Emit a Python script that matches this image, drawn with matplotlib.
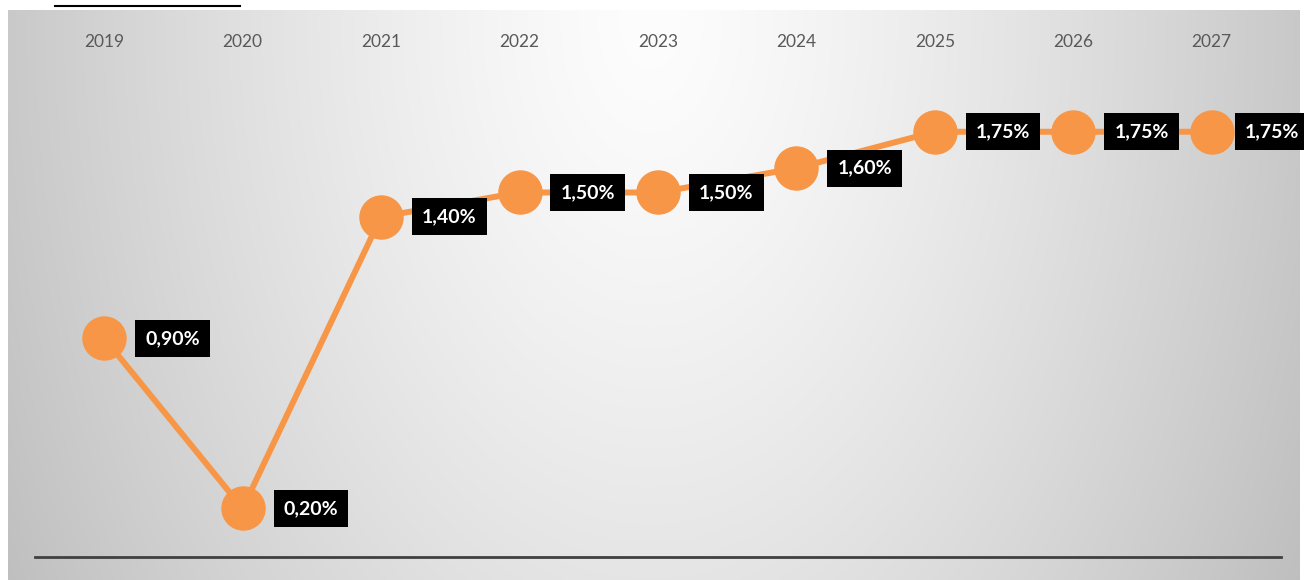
import numpy as np
import matplotlib
matplotlib.use("Agg")
import matplotlib.pyplot as plt

years = ["2019", "2020", "2021", "2022", "2023", "2024", "2025", "2026", "2027"]
values = [0.90, 0.20, 1.40, 1.50, 1.50, 1.60, 1.75, 1.75, 1.75]
labels = ["0,90%", "0,20%", "1,40%", "1,50%", "1,50%", "1,60%", "1,75%", "1,75%", "1,75%"]

W, H = 1304, 580
fig = plt.figure(figsize=(W / 100, H / 100), dpi=100)
fig.patch.set_facecolor("white")

# background gradient panel
bg = fig.add_axes([8 / W, 0, (1300 - 8) / W, (H - 10) / H])
yy, xx = np.mgrid[0:570, 0:1292]
d = np.sqrt(((xx - 642) / 700.0) ** 2 + ((yy - 10) / 1100.0) ** 2)
g = 253 - 58 * np.clip(d, 0, 1.2) ** 1.3
img = np.dstack([g, g, g]) / 255.0
bg.imshow(img, aspect="auto", extent=[0, 1, 0, 1], origin="upper")
bg.set_axis_off()

# title underline fragment (title cut off at top)
fig.add_artist(plt.Line2D([55 / W, 240 / W], [1 - 6 / H, 1 - 6 / H],
                          color="black", lw=1.5, transform=fig.transFigure))

ax = fig.add_axes([35 / W, (H - 557) / H, (1281 - 35) / W, (557 - 60) / H])
ax.set_facecolor("none")
x = np.arange(len(years))
ax.plot(x, values, color="#F79646", lw=4.3, zorder=2, solid_capstyle="round")
ax.plot(x, values, "o", color="#F79646", markersize=32, zorder=3,
        markeredgewidth=0)
n = len(years)
for i, (xi, v, lab) in enumerate(zip(x, values, labels)):
    off = 33 if i == n - 1 else 41
    ax.annotate(lab, (xi, v), xytext=(off, 0), textcoords="offset pixels",
                ha="left", va="center", color="white", fontsize=14,
                fontweight="bold", family="Lato", zorder=4,
                bbox=dict(boxstyle="square,pad=0.52", fc="black", ec="none"))

ax.set_xlim(-0.5, 8.5)
ax.set_ylim(0, (557 - 60) / 243.0)
ax.xaxis.tick_top()
ax.set_xticks(x)
ax.set_xticklabels(years, color="#595959", fontsize=12.5, family="Lato")
ax.tick_params(axis="x", length=0, pad=7)
ax.set_yticks([])
for s in ["top", "left", "right"]:
    ax.spines[s].set_visible(False)
ax.spines["bottom"].set_color("#404040")
ax.spines["bottom"].set_linewidth(2)

fig.savefig("out.png", dpi=100)
